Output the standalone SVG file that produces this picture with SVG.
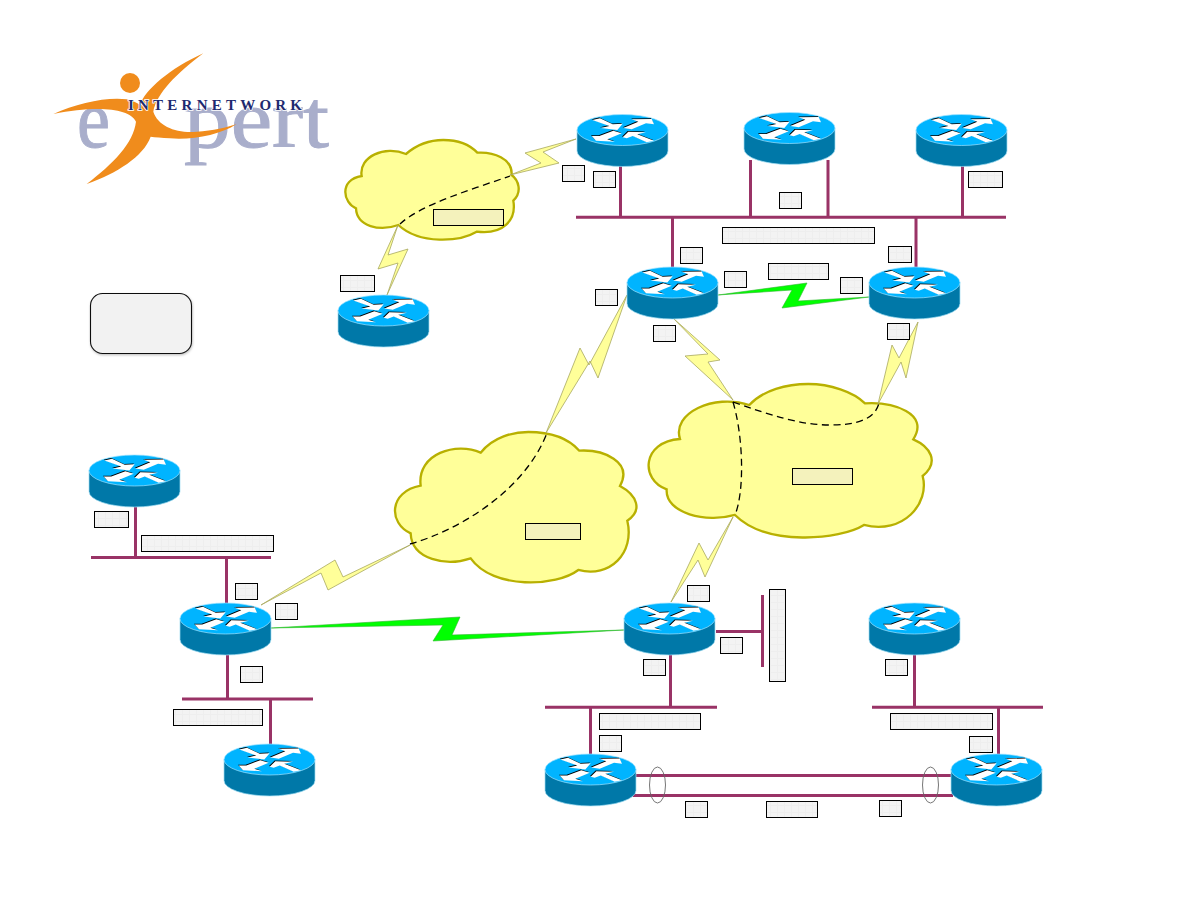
<svg xmlns="http://www.w3.org/2000/svg" xmlns:xlink="http://www.w3.org/1999/xlink" width="1188" height="918" viewBox="0 0 1188 918">
<style>
  .lan { fill: none; stroke: #993366; stroke-width: 3; }
  .cloud { fill: #ffff99; stroke: #b8b000; stroke-width: 7; }
  .serial { fill: #ffff99; stroke: #a8a860; stroke-width: 0.8; stroke-linejoin: miter; }
  .ptp { fill: #00ff00; stroke: #2fb52f; stroke-width: 0.6; }
  .vc { fill: none; stroke: #000; stroke-width: 1.3; stroke-dasharray: 7 4.5; }
  .bundle { fill: none; stroke: #666; stroke-width: 0.9; }
  .tag { fill: url(#mesh); stroke: #000; stroke-width: 1; }
  .tag-y { fill: #f4f2bc; stroke: #000; stroke-width: 1; }
  .word { font-family: "Liberation Serif", "Times New Roman", serif; fill: #a9aecb; stroke: #a9aecb; stroke-width: 1px; font-size: 82px; }
  .brand { font-family: "Liberation Serif", "Times New Roman", serif; font-weight: bold; fill: #1e2a70; font-size: 15px; stroke: #fff; stroke-width: 1.6px; paint-order: stroke; }
</style>
<defs>
  <pattern id="mesh" width="7" height="7" patternUnits="userSpaceOnUse">
    <rect width="7" height="7" fill="#f3f3f3"/>
    <path d="M0 .5H7M.5 0V7" stroke="#eeeeee" stroke-width="1"/>
  </pattern>
  <filter id="lift" x="-10%" y="-10%" width="120%" height="125%">
    <feDropShadow dx="0.6" dy="1.2" stdDeviation="0.8" flood-color="#000" flood-opacity="0.25"/>
  </filter>
  <polygon id="a1" points="15.3,5.5 23,3.8 35.7,9.8 45.7,9.2 40.3,15.5 23.7,13.5 32.3,11.5"/>
  <polygon id="a2" points="46.3,13.5 61.3,7.2 54.7,4.8 74.7,4.5 77,9.8 69,8.8 54.7,14.8"/>
  <polygon id="a3" points="14.7,21.5 19,26.2 38,27.2 30.3,24.8 44.7,18.8 36.3,16.2 22.3,21.5"/>
  <polygon id="a4" points="45.7,22.8 51.3,17.2 69,17.8 60.3,19.8 77,26.2 69.7,27.8 55.7,21.5 49.7,23.8"/>
  <g id="arrows">
    <use xlink:href="#a1"/><use xlink:href="#a2"/><use xlink:href="#a3"/><use xlink:href="#a4"/>
  </g>
  <g id="router">
    <path d="M0 15.5V36.5A45.5 15.5 0 0 0 91 36.5V15.5Z" fill="#0078a8" stroke="#9fdcf2" stroke-width="0.7"/>
    <ellipse cx="45.5" cy="15.5" rx="45.5" ry="15.5" fill="#00b4ff" stroke="#9fe2ff" stroke-width="0.7"/>
    <use xlink:href="#arrows" x="-0.7" y="-0.7" fill="#000"/>
    <use xlink:href="#arrows" fill="#fff"/>
  </g>
</defs>

<rect width="1188" height="918" fill="#fff"/>

<!-- Brand mark -->
<g id="logo">
  <text class="word" x="77" y="147" textLength="33" lengthAdjust="spacingAndGlyphs">e</text>
  <text class="word" x="184" y="147" textLength="145" lengthAdjust="spacingAndGlyphs">pert</text>
  <circle cx="130" cy="83" r="10" fill="#f08c1c"/>
  <path transform="translate(30 40) scale(.3333)" fill="#f08c1c" d="M70,222 C140,190 230,170 290,178 C310,182 322,190 330,195 C345,150 420,85 520,40 C440,100 380,160 370,215 C385,260 440,280 500,275 C550,272 590,262 620,252 C570,285 490,300 420,295 C395,293 375,292 362,290 C340,350 260,400 170,432 C250,370 310,310 318,245 C300,205 200,195 70,222 Z"/>
  <text class="brand" x="128" y="109.500" textLength="174">INTERNETWORK</text>
</g>

<!-- Frame-relay and WAN clouds -->
<path id="cloud-a" class="cloud" transform="translate(330 130) scale(.3333)" d="M228,72 C265,40 300,30 340,30 C385,30 420,45 442,68 C490,65 548,85 545,135 C565,150 578,185 550,212 C560,270 520,315 440,305 C390,335 270,345 205,285 C150,305 80,290 78,235 C40,220 25,150 95,138 C85,80 165,45 228,72 Z"/>
<path id="cloud-b" class="cloud" transform="translate(390 420) scale(.3333)" d="M272,98 C310,50 370,36 415,36 C480,36 535,55 568,92 C640,88 730,125 690,198 C740,225 760,270 712,302 C735,400 660,475 565,450 C500,500 310,510 242,415 C170,440 65,420 62,340 C-5,310 -5,215 92,197 C80,100 200,65 272,98 Z"/>
<path id="cloud-c" class="cloud" transform="translate(640 370) scale(.3333)" d="M328,105 C370,60 440,42 505,42 C570,42 640,65 675,100 C760,95 870,130 820,208 C870,230 900,275 848,318 C870,400 790,495 672,465 C600,510 380,530 285,435 C200,460 75,430 80,358 C0,330 5,215 120,207 C95,130 220,70 328,105 Z"/>

<g id="connectors">
  <!-- Ethernet segments and drops -->
  <path class="lan" d="M576 217.300H1006M620.500 166V217M750.500 160V217M828 160V217M962.500 166V217M672.500 217V268M916 217V268"/>
  <path class="lan" d="M91 557.500H271M135.500 507V557M226.500 557V604"/>
  <path class="lan" d="M182 699H313M227.500 655V699M270.500 699V745"/>
  <path class="lan" d="M545 707.300H717M590.500 707V755M670.500 655V707"/>
  <path class="lan" d="M872 707.300H1043M914.500 655V707M998.500 707V755"/>
  <path class="lan" d="M762.500 595V667M716 631.500H762"/>
  <path class="lan" d="M636 775.500H951M633 795.500H953"/>
  <ellipse class="bundle" cx="657.500" cy="785" rx="8" ry="18"/>
  <ellipse class="bundle" cx="930.500" cy="785" rx="8" ry="18"/>

  <!-- Serial links -->
  <polygon class="serial" points="510,175 541,163 525,153 576,139 543,152 559,163"/>
  <polygon class="serial" points="398,225 378,269 398,263 387,295 408,249 388,255"/>
  <polygon class="serial" points="627,295 598,378 590,361 546,433 580,348 589,365"/>
  <polygon class="serial" points="733,517 705,577 698,560 671,602 699,543 708,560"/>
  <polygon class="serial" points="673,318 720,360 708,362 733,400 685,356 708,354"/>
  <polygon class="serial" points="918,322 906,378 901,362 878,404 892,345 899,358"/>
  <polygon class="serial" points="261,605 335,560 343,577 410,545 328,590 321,573"/>

  <!-- Back-to-back serial links -->
  <polygon class="ptp" points="718,295 807,283 798,301 869,297 782,308 792,290"/>
  <polygon class="ptp" points="271,628 460,617 452,635 624,630 433,641 443,625"/>

  <!-- Virtual circuits through the clouds -->
  <path class="vc" d="M400,224 C420,205 470,190 510,176"/>
  <path class="vc" d="M410,544 C460,530 525,490 547,433"/>
  <path class="vc" d="M733,402 C743,435 745,490 735,515"/>
  <path class="vc" d="M733,402 C770,415 800,425 830,425 C855,425 875,420 879,403"/>
</g>

<!-- Routers -->
<g id="r1"><use xlink:href="#router" x="577" y="114.500"/></g>
<g id="r2"><use xlink:href="#router" x="744" y="112.500"/></g>
<g id="r3"><use xlink:href="#router" x="916" y="114.500"/></g>
<g id="r4"><use xlink:href="#router" x="338" y="295"/></g>
<g id="r5"><use xlink:href="#router" x="627" y="267"/></g>
<g id="r6"><use xlink:href="#router" x="869" y="267"/></g>
<g id="r7"><use xlink:href="#router" x="89" y="455"/></g>
<g id="r8"><use xlink:href="#router" x="180" y="603"/></g>
<g id="r9"><use xlink:href="#router" x="224" y="744"/></g>
<g id="r10"><use xlink:href="#router" x="624" y="603"/></g>
<g id="r11"><use xlink:href="#router" x="869" y="603"/></g>
<g id="r12"><use xlink:href="#router" x="545" y="754"/></g>
<g id="r13"><use xlink:href="#router" x="951" y="754"/></g>

<!-- Address tags -->
<g id="tags">
  <rect class="tag" x="562.500" y="165.500" width="22" height="16"/>
  <rect class="tag" x="593.500" y="171.500" width="22" height="16"/>
  <rect class="tag" x="340.500" y="275.500" width="34" height="16"/>
  <rect class="tag" x="779.500" y="192.500" width="22" height="16"/>
  <rect class="tag" x="968.500" y="171.500" width="34" height="16"/>
  <rect class="tag" x="722.500" y="227.500" width="152" height="16"/>
  <rect class="tag" x="680.500" y="247.500" width="22" height="16"/>
  <rect class="tag" x="888.500" y="246.500" width="23" height="16"/>
  <rect class="tag" x="768.500" y="263.500" width="60" height="16"/>
  <rect class="tag" x="724.500" y="271.500" width="22" height="16"/>
  <rect class="tag" x="840.500" y="277.500" width="22" height="16"/>
  <rect class="tag" x="595.500" y="289.500" width="22" height="16"/>
  <rect class="tag" x="653.500" y="325.500" width="22" height="16"/>
  <rect class="tag" x="887.500" y="323.500" width="22" height="16"/>
  <rect class="tag" x="687.500" y="585.500" width="22" height="16"/>
  <rect class="tag" x="94.500" y="511.500" width="34" height="16"/>
  <rect class="tag" x="141.500" y="535.500" width="132" height="16"/>
  <rect class="tag" x="235.500" y="583.500" width="22" height="16"/>
  <rect class="tag" x="275.500" y="603.500" width="22" height="16"/>
  <rect class="tag" x="240.500" y="666.500" width="22" height="16"/>
  <rect class="tag" x="173.500" y="709.500" width="89" height="16"/>
  <rect class="tag" x="720.500" y="637.500" width="22" height="16"/>
  <rect class="tag" x="769.500" y="589.500" width="16" height="92"/>
  <rect class="tag" x="643.500" y="659.500" width="22" height="16"/>
  <rect class="tag" x="885.500" y="659.500" width="22" height="16"/>
  <rect class="tag" x="599.500" y="713.500" width="101" height="16"/>
  <rect class="tag" x="599.500" y="735.500" width="22" height="16"/>
  <rect class="tag" x="890.500" y="713.500" width="102" height="16"/>
  <rect class="tag" x="969.500" y="736.500" width="23" height="16"/>
  <rect class="tag" x="685.500" y="801.500" width="22" height="16"/>
  <rect class="tag" x="766.500" y="801.500" width="51" height="16"/>
  <rect class="tag" x="879.500" y="800.500" width="22" height="16"/>
  <rect class="tag-y" x="433.500" y="209.500" width="70" height="16"/>
  <rect class="tag-y" x="525.500" y="523.500" width="55" height="16"/>
  <rect class="tag-y" x="792.500" y="468.500" width="60" height="16"/>
</g>

<g id="legend">
  <rect x="90.500" y="293.500" width="101" height="60" rx="12" ry="12" fill="#f2f2f2" stroke="#111" stroke-width="1.1" filter="url(#lift)"/>
</g>
</svg>
